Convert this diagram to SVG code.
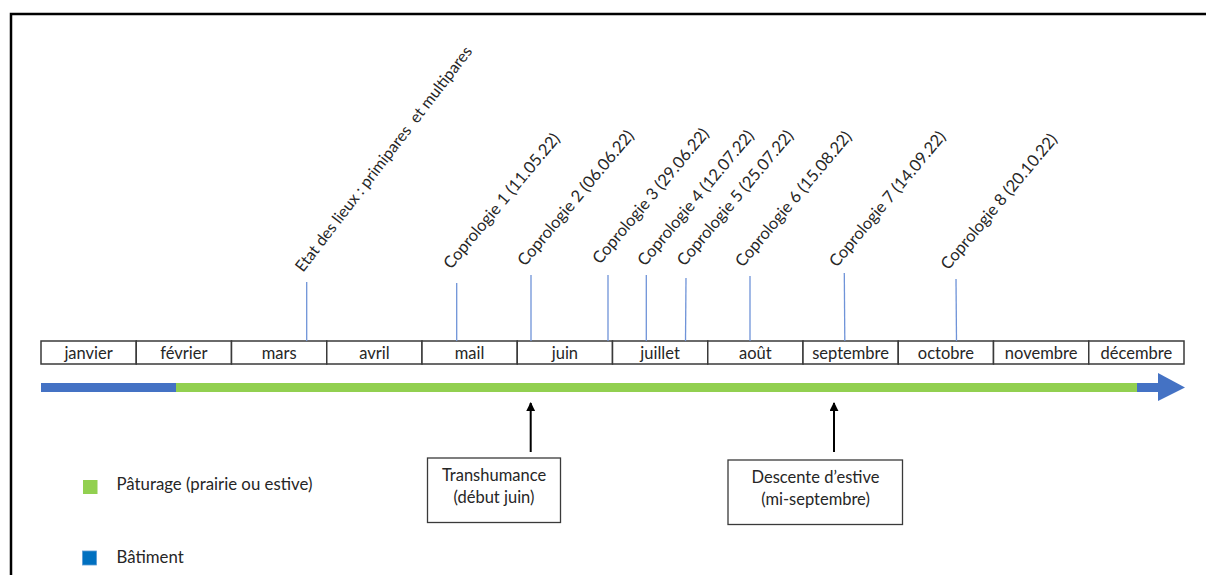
<svg xmlns="http://www.w3.org/2000/svg" width="1206" height="575" viewBox="0 0 1206 575">
<style>
  text { font-family: Lato, "Open Sans", "Liberation Sans", sans-serif; fill: #262626; }
  .m { font-size: 16.5px; text-anchor: middle; }
  .lab { font-size: 16.5px; }
  .cell { fill: #ffffff; stroke: #3a3a3a; stroke-width: 1.5; }
  .ev { stroke: #6f93d8; stroke-width: 1.3; }
  .box { fill: #ffffff; stroke: #3a3a3a; stroke-width: 1.3; }
  .arr { stroke: #000000; stroke-width: 2; }
  .bt { font-size: 16.5px; text-anchor: middle; }
  .lg { font-size: 16.8px; }
</style>
<defs>
  <marker id="ah" markerWidth="9" markerHeight="9" refX="9" refY="5" orient="auto" markerUnits="userSpaceOnUse" viewBox="0 0 10 10">
    <path d="M0,0 L10,5 L0,10 Z" fill="#000000"/>
  </marker>
</defs>
<rect x="0" y="0" width="1206" height="575" fill="#ffffff"/>
<g id="frame">
  <path d="M11,575 L11,14 L1206,14" fill="none" stroke="#000000" stroke-width="2.5"/>
</g>
<g id="months">
  <rect class="cell" x="41" y="341" width="95.25" height="23"/>
  <rect class="cell" x="136.25" y="341" width="95.25" height="23"/>
  <rect class="cell" x="231.5" y="341" width="95.25" height="23"/>
  <rect class="cell" x="326.75" y="341" width="95.25" height="23"/>
  <rect class="cell" x="422" y="341" width="95.25" height="23"/>
  <rect class="cell" x="517.25" y="341" width="95.25" height="23"/>
  <rect class="cell" x="612.5" y="341" width="95.25" height="23"/>
  <rect class="cell" x="707.75" y="341" width="95.25" height="23"/>
  <rect class="cell" x="803" y="341" width="95.25" height="23"/>
  <rect class="cell" x="898.25" y="341" width="95.25" height="23"/>
  <rect class="cell" x="993.5" y="341" width="95.25" height="23"/>
  <rect class="cell" x="1088.75" y="341" width="95.25" height="23"/>
  <text class="m" x="88.6" y="359">janvier</text>
  <text class="m" x="183.9" y="359">février</text>
  <text class="m" x="279.1" y="359">mars</text>
  <text class="m" x="374.4" y="359">avril</text>
  <text class="m" x="469.6" y="359">mail</text>
  <text class="m" x="564.9" y="359">juin</text>
  <text class="m" x="660.1" y="359">juillet</text>
  <text class="m" x="755.4" y="359">août</text>
  <text class="m" x="850.6" y="359">septembre</text>
  <text class="m" x="945.9" y="359">octobre</text>
  <text class="m" x="1041.1" y="359">novembre</text>
  <text class="m" x="1136.4" y="359">décembre</text>
</g>
<g id="timeline">
  <rect x="41" y="383" width="135" height="9" fill="#4472c4"/>
  <rect x="176" y="383" width="961" height="9" fill="#92d050"/>
  <rect x="1137" y="383" width="22" height="9" fill="#4472c4"/>
  <path d="M1158,373 L1185,387.5 L1158,401 Z" fill="#4472c4"/>
</g>
<g id="connectors">
  <line class="ev" x1="306.7" y1="282" x2="306.7" y2="341"/>
  <line class="ev" x1="456.7" y1="283" x2="456.7" y2="341"/>
  <line class="ev" x1="531" y1="275" x2="531" y2="341"/>
  <line class="ev" x1="608" y1="275" x2="608" y2="341"/>
  <line class="ev" x1="646.3" y1="275" x2="646.3" y2="341"/>
  <line class="ev" x1="686" y1="278" x2="685.5" y2="341"/>
  <line class="ev" x1="750" y1="276" x2="750" y2="341"/>
  <line class="ev" x1="844.3" y1="273" x2="844.8" y2="341"/>
  <line class="ev" x1="956" y1="279" x2="956.5" y2="341"/>
  <line class="arr" x1="530.7" y1="452" x2="530.7" y2="403" marker-end="url(#ah)"/>
  <line class="arr" x1="834" y1="452" x2="834" y2="403" marker-end="url(#ah)"/>
</g>
<g id="labels">
  <text class="lab" style="font-size:16px" xml:space="preserve" transform="translate(303,273) rotate(-52.5)">Etat des lieux : primipares  et multipares</text>
  <text class="lab" transform="translate(451,270) rotate(-50)">Coprologie 1 (11.05.22)</text>
  <text class="lab" transform="translate(525,267) rotate(-50)">Coprologie 2 (06.06.22)</text>
  <text class="lab" transform="translate(600,265) rotate(-50)">Coprologie 3 (29.06.22)</text>
  <text class="lab" transform="translate(645,267) rotate(-50)">Coprologie 4 (12.07.22)</text>
  <text class="lab" transform="translate(684.5,267) rotate(-50)">Coprologie 5 (25.07.22)</text>
  <text class="lab" transform="translate(742.7,268) rotate(-50)">Coprologie 6 (15.08.22)</text>
  <text class="lab" transform="translate(836.7,268) rotate(-50)">Coprologie 7 (14.09.22)</text>
  <text class="lab" transform="translate(948.3,270.7) rotate(-50)">Coprologie 8 (20.10.22)</text>
</g>
<g id="transhumance">
  <rect class="box" x="427.5" y="458" width="133" height="64.5"/>
  <text class="bt" x="494" y="481">Transhumance</text>
  <text class="bt" x="494" y="503">(début juin)</text>
</g>
<g id="descente">
  <rect class="box" x="728" y="460" width="174.5" height="64.5"/>
  <text class="bt" x="815.5" y="483">Descente d’estive</text>
  <text class="bt" x="815.5" y="505">(mi-septembre)</text>
</g>
<g id="legend">
  <rect x="83" y="480" width="14.5" height="14" fill="#92d050"/>
  <text class="lg" x="116.5" y="490">Pâturage (prairie ou estive)</text>
  <rect x="82.5" y="551" width="14" height="14" fill="#0070c0" stroke="#5b9bd5" stroke-width="0.8"/>
  <text class="lg" x="116.5" y="562.5">Bâtiment</text>
</g>
</svg>
